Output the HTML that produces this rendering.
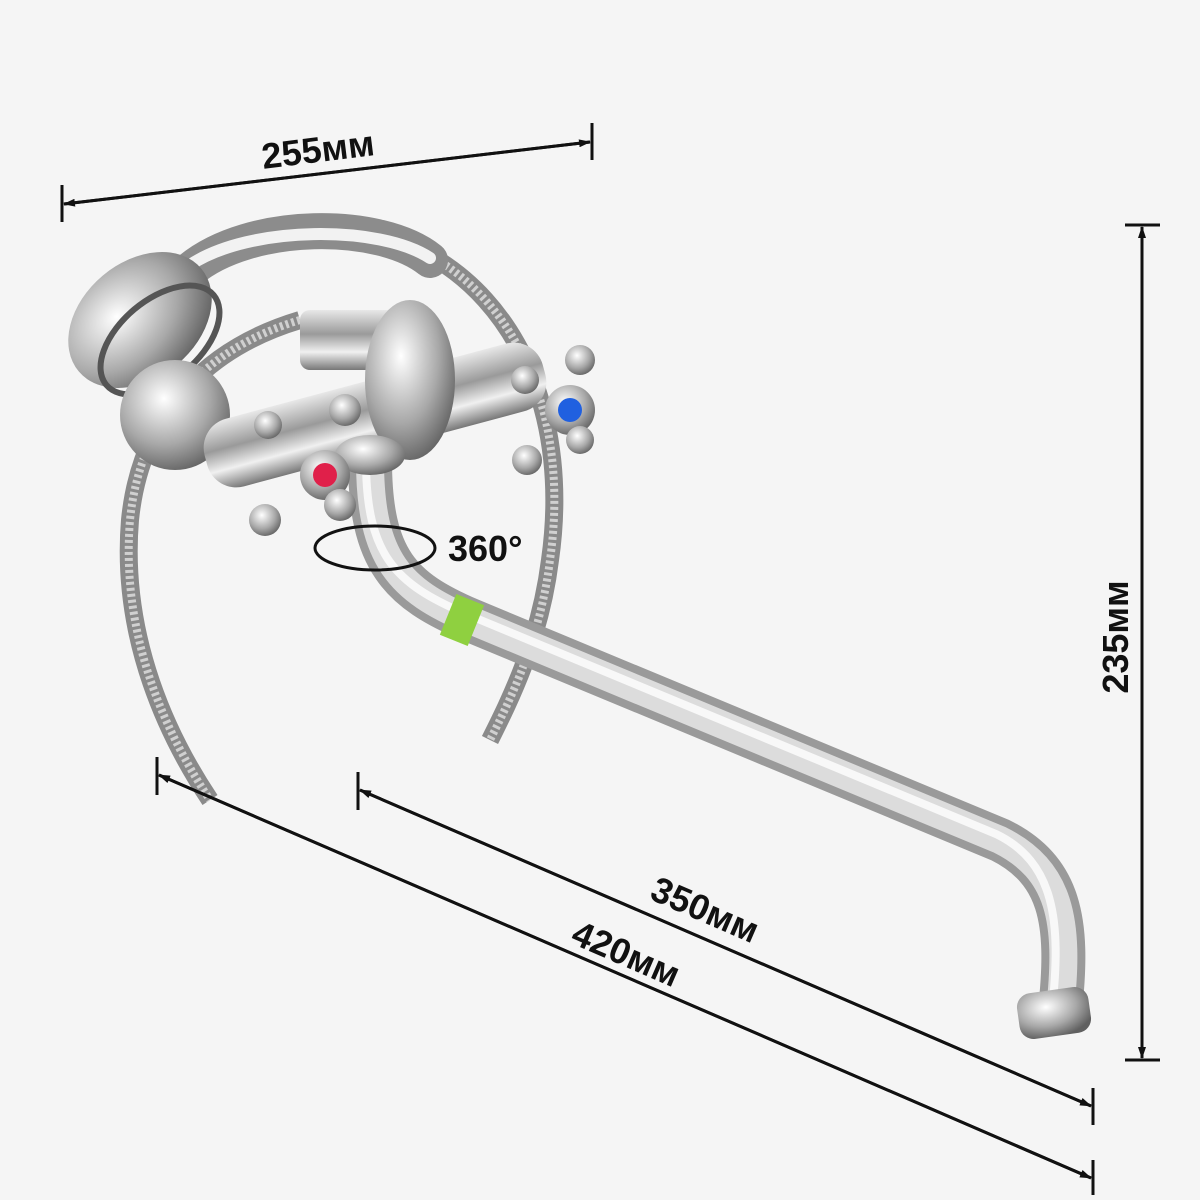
<!DOCTYPE html>
<html><head><meta charset="utf-8"><style>
html,body{margin:0;padding:0;background:#f5f5f5;}
svg{display:block;}
text{font-family:"Liberation Sans",sans-serif;font-weight:bold;font-size:36px;fill:#111;}
</style></head><body>
<svg width="1200" height="1200" viewBox="0 0 1200 1200" xmlns="http://www.w3.org/2000/svg">
<defs>
<linearGradient id="chrome" x1="0" y1="0" x2="0" y2="1">
<stop offset="0" stop-color="#e8e8e8"/><stop offset="0.4" stop-color="#9a9a9a"/><stop offset="0.7" stop-color="#f0f0f0"/><stop offset="1" stop-color="#777"/>
</linearGradient>
<radialGradient id="rc" cx="0.4" cy="0.35" r="0.7">
<stop offset="0" stop-color="#ffffff"/><stop offset="0.6" stop-color="#a8a8a8"/><stop offset="1" stop-color="#606060"/>
</radialGradient>
<marker id="ar" markerWidth="12" markerHeight="8" refX="11" refY="4" orient="auto" markerUnits="userSpaceOnUse"><path d="M0,0 L12,4 L0,8 Z" fill="#111"/></marker>
</defs>
<rect width="1200" height="1200" fill="#f5f5f5"/>

<!-- hose -->
<path d="M300,320 C200,350 140,420 130,520 C120,640 170,740 210,800" fill="none" stroke="#8a8a8a" stroke-width="18"/>
<path d="M300,320 C200,350 140,420 130,520 C120,640 170,740 210,800" fill="none" stroke="#d0d0d0" stroke-width="8" stroke-dasharray="3 3"/>
<path d="M420,250 C520,300 570,420 550,560 C540,640 510,700 490,740" fill="none" stroke="#8a8a8a" stroke-width="18"/>
<path d="M420,250 C520,300 570,420 550,560 C540,640 510,700 490,740" fill="none" stroke="#d0d0d0" stroke-width="8" stroke-dasharray="3 3"/>

<!-- spout -->
<path d="M370,460 C370,560 400,590 470,620 L1000,840 C1060,870 1070,920 1060,1010" fill="none" stroke="#9a9a9a" stroke-width="44" stroke-linecap="butt"/>
<path d="M370,460 C370,560 400,590 470,620 L1000,840 C1060,870 1070,920 1060,1010" fill="none" stroke="#dcdcdc" stroke-width="28"/>
<path d="M366,460 C366,556 396,584 466,614 L996,834 C1054,862 1062,920 1052,1010" fill="none" stroke="#f8f8f8" stroke-width="8"/>
<rect x="1018" y="990" width="72" height="46" rx="14" fill="url(#rc)" transform="rotate(-8 1054 1013)"/>
<rect x="447" y="598" width="30" height="44" fill="#8fd040" transform="rotate(22 462 620)"/>

<!-- shower handle -->
<path d="M190,270 C250,220 380,220 430,260" fill="none" stroke="#8c8c8c" stroke-width="36" stroke-linecap="round"/>
<path d="M190,265 C250,225 380,225 430,258" fill="none" stroke="#f2f2f2" stroke-width="12" stroke-linecap="round"/>
<ellipse cx="140" cy="320" rx="80" ry="58" transform="rotate(-40 140 320)" fill="url(#rc)"/>
<ellipse cx="160" cy="340" rx="70" ry="40" transform="rotate(-40 160 340)" fill="none" stroke="#555" stroke-width="6"/>

<!-- wall flange -->
<ellipse cx="175" cy="415" rx="55" ry="55" fill="url(#rc)"/>
<!-- body -->
<rect x="200" y="380" width="350" height="70" rx="30" fill="url(#chrome)" transform="rotate(-15 375 415)"/>
<rect x="300" y="310" width="110" height="60" rx="10" fill="url(#chrome)"/>
<ellipse cx="410" cy="380" rx="45" ry="80" fill="url(#rc)"/>
<ellipse cx="370" cy="455" rx="35" ry="20" fill="url(#rc)"/>

<!-- handles -->
<g fill="url(#rc)">
<circle cx="325" cy="475" r="25"/><circle cx="268" cy="425" r="14"/><circle cx="345" cy="410" r="16"/><circle cx="265" cy="520" r="16"/><circle cx="340" cy="505" r="16"/>
<circle cx="570" cy="410" r="25"/><circle cx="580" cy="360" r="15"/><circle cx="525" cy="380" r="14"/><circle cx="580" cy="440" r="14"/><circle cx="527" cy="460" r="15"/>
</g>
<circle cx="325" cy="475" r="12" fill="#e0204a"/>
<circle cx="570" cy="410" r="12" fill="#2060e0"/>

<!-- 360 rotation -->
<ellipse cx="375" cy="548" rx="60" ry="22" fill="none" stroke="#111" stroke-width="3"/>
<text x="448" y="561">360°</text>

<!-- dimension lines -->
<g stroke="#111" stroke-width="3" fill="none">
<line x1="62" y1="185" x2="62" y2="222"/>
<line x1="592" y1="123" x2="592" y2="160"/>
<line x1="590" y1="142" x2="64" y2="204" marker-end="url(#ar)"/>
<line x1="64" y1="204" x2="590" y2="142" marker-end="url(#ar)"/>

<line x1="1125" y1="225" x2="1160" y2="225"/>
<line x1="1125" y1="1060" x2="1160" y2="1060"/>
<line x1="1142" y1="227" x2="1142" y2="1058" marker-end="url(#ar)"/>
<line x1="1142" y1="1058" x2="1142" y2="227" marker-end="url(#ar)"/>

<line x1="358" y1="772" x2="358" y2="810"/>
<line x1="1093" y1="1088" x2="1093" y2="1125"/>
<line x1="360" y1="790" x2="1091" y2="1106" marker-end="url(#ar)"/>
<line x1="1091" y1="1106" x2="360" y2="790" marker-end="url(#ar)"/>

<line x1="157" y1="757" x2="157" y2="795"/>
<line x1="1093" y1="1160" x2="1093" y2="1195"/>
<line x1="159" y1="775" x2="1091" y2="1178" marker-end="url(#ar)"/>
<line x1="1091" y1="1178" x2="159" y2="775" marker-end="url(#ar)"/>
</g>

<text x="318" y="162" text-anchor="middle" transform="rotate(-7 318 150)">255мм</text>
<text x="1128" y="637" text-anchor="middle" transform="rotate(-90 1128 637)">235мм</text>
<text x="705" y="922" text-anchor="middle" transform="rotate(23.5 705 910)">350мм</text>
<text x="626" y="966" text-anchor="middle" transform="rotate(23.5 626 954)">420мм</text>
</svg>
</body></html>
